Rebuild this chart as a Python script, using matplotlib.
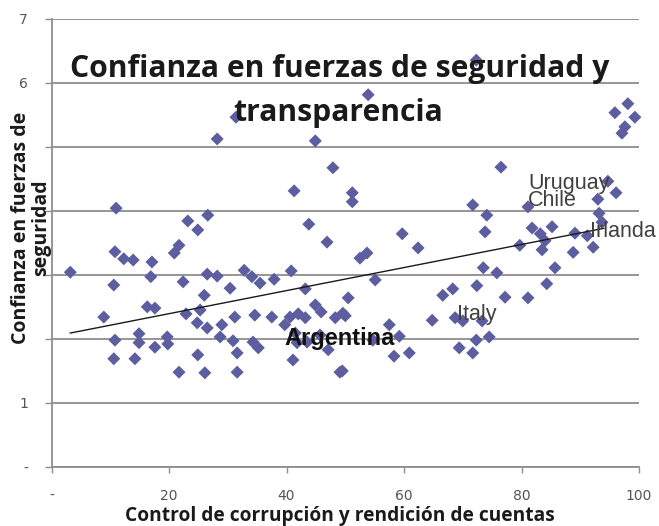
import matplotlib
matplotlib.use("Agg")
import matplotlib.pyplot as plt
from matplotlib.ticker import FixedLocator, FixedFormatter

# ---- data ----
control_corrupcion = [
    3.2, 11.0, 10.8, 12.3, 13.9, 17.1, 16.9, 10.6, 20.9, 21.7, 23.2, 24.9, 26.6, 22.4,
    8.9, 16.3, 17.6, 10.8, 14.9, 14.9, 17.6, 19.7, 19.8, 10.6, 14.2, 21.7, 22.9, 24.8,
    24.9, 25.3, 28.2, 31.4, 26.5, 28.2, 30.4, 32.8, 34.1, 35.5, 37.9, 40.8, 43.2, 41.3,
    43.8, 44.9, 46.9, 47.9, 51.2, 51.2, 26.0, 26.5, 29.0, 28.7, 31.2, 30.9, 31.6, 34.6,
    34.3, 35.2, 37.5, 39.7, 40.6, 42.0, 43.2, 41.5, 43.5, 44.9, 45.9, 45.7, 47.1, 48.3,
    49.6, 41.1, 26.1, 31.6, 49.1, 41.8, 53.9, 53.7, 52.5, 55.1, 50.5, 50.0, 59.7, 62.4,
    71.7, 74.1, 73.8, 72.3, 73.5, 75.8, 72.4, 68.3, 66.6, 64.8, 68.7, 70.0, 73.3, 57.5,
    59.2, 54.7, 58.3, 60.9, 69.4, 71.7, 72.3, 74.5, 49.5, 98.1, 95.9, 99.3, 97.6, 97.1,
    76.5, 94.7, 96.1, 93.0, 81.1, 93.2, 93.7, 81.8, 83.2, 85.2, 84.0, 89.1, 91.2, 79.7,
    88.8, 92.2, 83.5, 85.7, 84.3, 77.2, 81.1,
]
confianza = [
    3.04, 4.04, 3.36, 3.25, 3.23, 3.20, 2.97, 2.84, 3.34, 3.46, 3.84, 3.70, 3.93, 2.89,
    2.34, 2.50, 2.48, 1.98, 2.08, 1.94, 1.87, 2.03, 1.92, 1.69, 1.69, 1.48, 2.39, 2.25,
    1.75, 2.45, 5.12, 5.46, 3.01, 2.98, 2.79, 3.07, 2.97, 2.87, 2.93, 3.06, 2.78, 4.31,
    3.79, 5.09, 3.51, 4.67, 4.28, 4.14, 2.68, 2.17, 2.22, 2.03, 2.34, 1.97, 1.78, 2.37,
    1.95, 1.86, 2.34, 2.22, 2.34, 2.39, 2.33, 2.09, 1.95, 2.53, 2.42, 2.06, 1.83, 2.33,
    2.40, 1.67, 1.47, 1.48, 1.48, 1.94, 5.81, 3.34, 3.26, 2.92, 2.64, 2.36, 3.64, 3.42,
    4.09, 3.93, 3.67, 6.35, 3.11, 3.03, 2.83, 2.78, 2.68, 2.29, 2.33, 2.28, 2.28, 2.22,
    2.04, 1.98, 1.73, 1.78, 1.86, 1.78, 1.98, 2.03, 1.50, 5.67, 5.53, 5.46, 5.31, 5.21,
    4.68, 4.46, 4.28, 4.18, 4.06, 3.96, 3.82, 3.73, 3.64, 3.75, 3.53, 3.65, 3.61, 3.46,
    3.35, 3.43, 3.39, 3.11, 2.86, 2.65, 2.64,
]

# linear trend line
trend_intercept = 2.033
trend_slope = 0.018
trend_x_end = 94.0

# country labels
label_names = ["Uruguay", "Chile", "Irlanda", "Italy", "Argentina"]
label_x = [81.1, 81.1, 91.7, 69.0, 39.7]
label_y = [4.34, 4.07, 3.59, 2.29, 1.90]

x_ticks = [0, 20, 40, 60, 80, 100]
x_tick_labels = ["-", "20", "40", "60", "80", "100"]
y_ticks = [0, 1, 2, 3, 4, 5, 6, 7]
# labels 2-5 are hidden behind the axis title in the reference
y_tick_labels = ["-", "1", "", "", "", "", "6", "7"]

title_line1 = "Confianza en fuerzas de seguridad y"
title_line2 = "transparencia"
x_title = "Control de corrupción y rendición de cuentas"
y_title = "Confianza en fuerzas de\nseguridad"

# ---- figure ----
W, H = 659, 526
fig = plt.figure(figsize=(W / 100, H / 100), dpi=100)
fig.patch.set_facecolor("white")
ax = fig.add_axes([51.5 / W, 1 - 467 / H, (639 - 51.5) / W, (467 - 18.5) / H])
ax.set_facecolor("white")

grid_col = "#8e8e8e"
ax.set_xlim(0, 100)
ax.set_ylim(0, 7)
ax.yaxis.set_major_locator(FixedLocator(y_ticks))
ax.yaxis.set_major_formatter(FixedFormatter(y_tick_labels))
ax.xaxis.set_major_locator(FixedLocator(x_ticks))
ax.xaxis.set_major_formatter(FixedFormatter(x_tick_labels))
ax.grid(axis="y", color=grid_col, linewidth=1.3, zorder=0)
ax.set_axisbelow(True)
for s in ["top", "right"]:
    ax.spines[s].set_visible(False)
for s in ["left", "bottom"]:
    ax.spines[s].set_color(grid_col)
    ax.spines[s].set_linewidth(1.3)
ax.tick_params(axis="x", length=4, width=1, color=grid_col, pad=12,
               labelsize=10, labelcolor="#555555")
ax.tick_params(axis="y", length=5, width=1, color=grid_col, pad=12,
               labelsize=10, labelcolor="#555555")

ax.scatter(control_corrupcion, confianza, marker="D", s=44, color="#5c5ea0",
           edgecolors="none", zorder=3, clip_on=False)

tx = [min(control_corrupcion), trend_x_end]
ty = [trend_intercept + trend_slope * v for v in tx]
ax.plot(tx, ty, color="#1a1a1a", linewidth=1.0, zorder=4)

for name, lx, ly in zip(label_names, label_x, label_y):
    if name == "Argentina":
        ax.text(lx, ly, name, fontsize=17, color="#111111", fontweight="bold",
                family="Liberation Sans", va="baseline", ha="left", zorder=5)
    else:
        ax.text(lx, ly, name, fontsize=15.5, color="#404040",
                family="Liberation Sans", va="baseline", ha="left", zorder=5,
                clip_on=False)

fig.text(340 / W, 1 - 77 / H, title_line1, fontsize=21.7, fontweight="bold",
         family="Open Sans", color="#1a1a1a", ha="center", va="baseline")
fig.text(338 / W, 1 - 121 / H, title_line2, fontsize=21.7, fontweight="bold",
         family="Open Sans", color="#1a1a1a", ha="center", va="baseline")

fig.text(340 / W, 1 - 521 / H, x_title, fontsize=13.8, fontweight="bold",
         family="Open Sans", color="#1a1a1a", ha="center", va="baseline")
fig.text(31 / W, 1 - 228 / H, y_title, fontsize=14, fontweight="bold",
         family="Open Sans", color="#1a1a1a", ha="center", va="center",
         rotation=90, multialignment="center", linespacing=1.05)

fig.savefig("out.png", dpi=100, facecolor="white")
